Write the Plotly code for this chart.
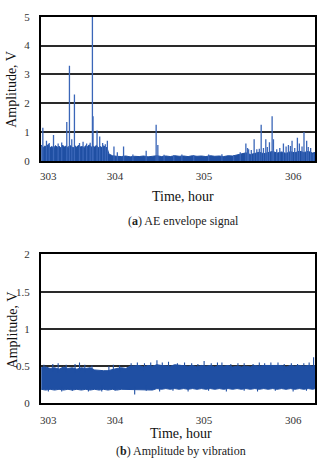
import plotly.graph_objects as go

# ---------------- data: (a) AE envelope signal ----------------
ae_band_x = [303.17,303.19,303.21,303.23,303.25,303.27,303.29,303.31,303.33,303.35,303.37,303.39,303.41,303.43,
             303.45,303.47,303.49,303.51,303.53,303.55,303.57,303.59,303.61,303.63,303.65,303.67,303.69,303.71,
             303.73,303.75,303.77,303.79,303.81,303.83,303.85,303.87,303.89,303.91,
             303.93,303.97,304.02,304.07,304.12,304.17,304.22,304.27,304.32,304.37,304.42,304.47,304.52,304.57,
             304.62,304.67,304.72,304.77,304.82,304.87,304.92,304.97,305.02,305.07,305.12,305.17,305.22,305.27,
             305.32,305.37,305.42,305.47,305.52,305.57,305.62,305.67,305.72,305.77,305.82,305.87,305.92,305.97,
             306.02,306.07,306.12,306.17,306.22,306.25]
ae_band_top = [0.55,0.45,0.52,0.48,0.58,0.46,0.50,0.44,0.53,0.47,0.51,0.45,0.55,0.48,
               0.52,0.46,0.54,0.49,0.45,0.52,0.47,0.55,0.48,0.50,0.46,0.53,0.49,0.56,
               0.47,0.52,0.48,0.54,0.46,0.50,0.47,0.52,0.48,0.45,
               0.24,0.18,0.16,0.15,0.17,0.14,0.16,0.15,0.17,0.14,0.16,0.18,0.15,0.17,
               0.15,0.18,0.16,0.17,0.15,0.18,0.16,0.17,0.15,0.18,0.16,0.17,0.15,0.18,
               0.17,0.21,0.24,0.28,0.22,0.26,0.30,0.25,0.29,0.33,0.27,0.31,0.26,0.32,
               0.28,0.34,0.29,0.33,0.27,0.30]
ae_spike_x = [303.188,303.229,303.308,303.457,303.487,303.513,303.543,303.745,303.752,303.797,303.827,
              303.913,303.987,304.025,304.095,304.349,304.461,304.480,304.659,304.883,305.051,305.331,
              305.406,305.469,305.488,305.562,305.592,305.641,305.667,305.693,305.734,305.764,305.779,
              305.816,305.891,305.921,305.947,305.988,306.018,306.048,306.070,306.122,306.152,306.197,306.227,
              303.26,303.36,303.40,303.60,303.64,303.68,303.72,303.86,303.89,
              304.20,304.55,304.75,305.20,305.50,305.53,305.62,305.71,305.85,305.97,306.10,306.17]
ae_spike_y = [1.15,0.70,0.90,1.35,3.30,0.75,2.30,5.00,1.55,1.05,0.85,
              0.70,0.50,0.30,0.50,0.35,1.25,0.55,0.20,0.20,0.22,0.20,
              0.30,0.60,0.45,0.75,0.40,1.25,0.45,0.75,0.65,1.55,0.75,
              0.40,0.60,0.50,0.55,0.70,0.45,0.80,0.60,1.00,0.70,0.45,0.25,
              0.62,0.60,0.64,0.62,0.66,0.60,0.63,0.62,0.58,
              0.22,0.21,0.22,0.23,0.40,0.38,0.42,0.48,0.45,0.52,0.50,0.48]

# ---------------- data: (b) Amplitude by vibration ----------------
vib_x = [303.17,303.22,303.27,303.32,303.37,303.42,303.47,303.52,303.57,303.62,303.67,303.72,303.77,303.82,
         303.87,303.92,303.97,304.02,304.07,304.12,304.17,304.22,304.27,304.32,304.37,304.42,304.47,304.52,
         304.57,304.62,304.67,304.72,304.77,304.82,304.87,304.92,304.97,305.02,305.07,305.12,305.17,305.22,
         305.27,305.32,305.37,305.42,305.47,305.52,305.57,305.62,305.67,305.72,305.77,305.82,305.87,305.92,
         305.97,306.02,306.07,306.12,306.17,306.22,306.25]
vib_high = [0.48,0.49,0.47,0.48,0.46,0.49,0.47,0.48,0.46,0.48,0.47,0.48,0.45,0.44,
            0.44,0.44,0.46,0.47,0.48,0.47,0.50,0.50,0.51,0.49,0.51,0.50,0.52,0.51,
            0.51,0.50,0.52,0.51,0.51,0.50,0.51,0.49,0.51,0.50,0.51,0.49,0.51,0.50,
            0.51,0.49,0.50,0.49,0.50,0.49,0.51,0.50,0.51,0.51,0.51,0.50,0.51,0.49,
            0.51,0.50,0.51,0.50,0.51,0.50,0.51]
vib_low = [0.19,0.18,0.19,0.18,0.19,0.18,0.19,0.18,0.19,0.18,0.19,0.18,0.19,0.18,
           0.19,0.18,0.19,0.18,0.19,0.19,0.18,0.18,0.19,0.19,0.19,0.18,0.20,0.19,
           0.20,0.19,0.20,0.19,0.20,0.19,0.20,0.19,0.20,0.19,0.20,0.19,0.20,0.19,
           0.20,0.19,0.20,0.19,0.20,0.19,0.20,0.19,0.20,0.19,0.20,0.19,0.20,0.19,
           0.20,0.19,0.20,0.19,0.20,0.19,0.20]
vib_spike_x = [303.20,303.30,303.36,303.45,303.55,303.60,303.66,303.74,303.93,303.98,304.05,304.18,304.25,
               304.33,304.40,304.47,304.53,304.60,304.70,304.78,304.86,304.93,305.00,305.08,305.15,305.20,
               305.30,305.38,305.45,305.55,305.62,305.68,305.75,305.83,305.90,305.98,306.05,306.12,306.18,306.23]
vib_spike_y = [0.52,0.53,0.54,0.52,0.53,0.55,0.52,0.51,0.50,0.52,0.51,0.54,0.55,
               0.54,0.55,0.58,0.55,0.56,0.54,0.55,0.54,0.53,0.57,0.54,0.55,0.55,
               0.53,0.54,0.54,0.53,0.55,0.54,0.55,0.55,0.53,0.54,0.53,0.54,0.55,0.62]
vib_dip_x = [303.25,303.40,303.52,303.70,303.85,304.00,304.22,304.35,304.50,304.65,304.82,305.05,305.25,
             305.45,305.60,305.80,306.00,306.15]
vib_dip_y = [0.16,0.16,0.17,0.16,0.16,0.17,0.12,0.17,0.16,0.17,0.16,0.17,0.16,0.17,0.16,0.17,0.16,0.17]

x_tick_vals = [303.25, 304, 305, 306]
x_tick_text = ["303", "304", "305", "306"]

assert len(ae_band_x) == len(ae_band_top)
assert len(ae_spike_x) == len(ae_spike_y)
assert len(vib_x) == len(vib_high) == len(vib_low)
assert len(vib_spike_x) == len(vib_spike_y)
assert len(vib_dip_x) == len(vib_dip_y)

BAND = "#1f4fa3"
SPIKE = "#3a66b8"
W, H = 322, 465


def spikes(xs, ys, base=0.0):
    sx, sy = [], []
    for x, y in zip(xs, ys):
        sx += [x, x, None]
        sy += [base, y, None]
    return sx, sy


def spikes_from(xs, ys, bx, by, off):
    sx, sy = [], []
    for x, y in zip(xs, ys):
        i = min(range(len(bx)), key=lambda k: abs(bx[k] - x))
        sx += [x, x, None]
        sy += [by[i] + off, y, None]
    return sx, sy


fig = go.Figure()

# (a)
fig.add_trace(go.Scatter(x=ae_band_x, y=ae_band_top, mode="lines", fill="tozeroy",
                         line=dict(color=BAND, width=1), fillcolor=BAND,
                         xaxis="x", yaxis="y", showlegend=False))
sx, sy = spikes(ae_spike_x, ae_spike_y)
fig.add_trace(go.Scatter(x=sx, y=sy, mode="lines", line=dict(color=SPIKE, width=1.3),
                         xaxis="x", yaxis="y", showlegend=False, connectgaps=False))

# (b)
fig.add_trace(go.Scatter(x=vib_x, y=vib_low, mode="lines", line=dict(color=BAND, width=1),
                         xaxis="x2", yaxis="y2", showlegend=False))
fig.add_trace(go.Scatter(x=vib_x, y=vib_high, mode="lines", fill="tonexty",
                         line=dict(color=BAND, width=1), fillcolor=BAND,
                         xaxis="x2", yaxis="y2", showlegend=False))
sx, sy = spikes_from(vib_spike_x, vib_spike_y, vib_x, vib_high, -0.05)
dx, dy = spikes_from(vib_dip_x, vib_dip_y, vib_x, vib_low, 0.05)
fig.add_trace(go.Scatter(x=sx + dx, y=sy + dy, mode="lines", line=dict(color=BAND, width=1.1),
                         xaxis="x2", yaxis="y2", showlegend=False, connectgaps=False))

font_fam = "Liberation Serif"
xdom = [40 / W, 315 / W]
axis_common = dict(showline=True, linecolor="black", linewidth=2, mirror=True,
                   ticks="", zeroline=False,
                   tickfont=dict(family=font_fam, size=11, color="#333"))

fig.update_layout(
    width=W, height=H, autosize=False,
    margin=dict(l=0, r=0, t=0, b=0),
    paper_bgcolor="white", plot_bgcolor="white",
    xaxis=dict(domain=xdom, range=[303.166, 306.246], anchor="y",
               tickmode="array", tickvals=x_tick_vals, ticktext=x_tick_text,
               showgrid=False, ticklabelstandoff=4, **axis_common),
    yaxis=dict(domain=[1 - 159 / H, 1 - 11 / H], range=[0, 5], anchor="x",
               tickmode="array", tickvals=[0, 1, 2, 3, 4, 5],
               showgrid=True, gridcolor="#2a2a2a", gridwidth=1.5,
               ticklabelstandoff=7, **axis_common),
    xaxis2=dict(domain=xdom, range=[303.166, 306.246], anchor="y2",
                tickmode="array", tickvals=x_tick_vals, ticktext=x_tick_text,
                showgrid=False, ticklabelstandoff=5, **axis_common),
    yaxis2=dict(domain=[1 - 408 / H, 1 - 255 / H], range=[0, 2], anchor="x2",
                tickmode="array", tickvals=[0, 0.5, 1, 1.5, 2], ticktext=["0", "0.5", "1", "1.5", "2"],
                showgrid=True, gridcolor="#2a2a2a", gridwidth=1.5,
                ticklabelstandoff=7, **axis_common),
)


def ann(text, px, py, size, angle=0, color="#111"):
    fig.add_annotation(text=text, x=px / W, y=1 - py / H, xref="paper", yref="paper",
                       showarrow=False, textangle=angle, xanchor="center", yanchor="middle",
                       font=dict(family=font_fam, size=size, color=color))


ann("Amplitude, V", 11, 85, 14, angle=-90)
ann("Amplitude, V", 11, 332, 14, angle=-90)
ann("Time, hour", 183, 196, 14)
ann("Time, hour", 181, 438.5, 14)
ann("(<b>a</b>) AE envelope signal", 183, 221, 12, color="#222")
ann("(<b>b</b>) Amplitude by vibration", 181, 457, 12, color="#222")

fig.write_html("out.html")
